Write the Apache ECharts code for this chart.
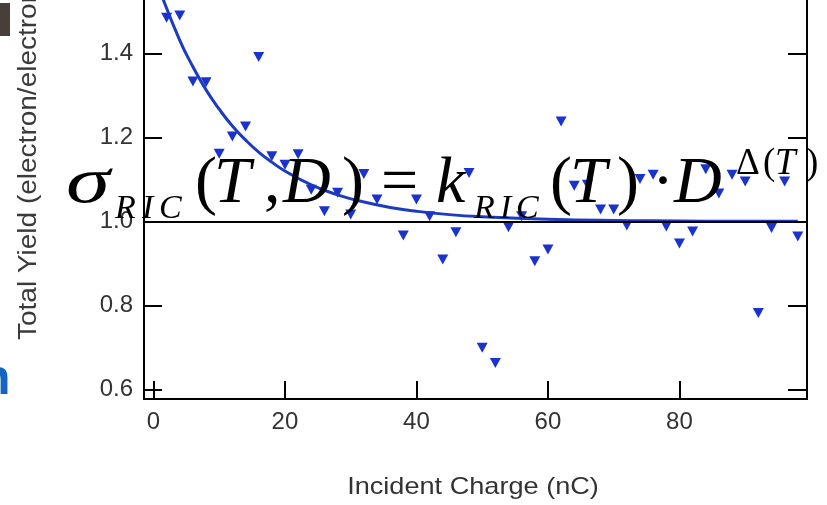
<!DOCTYPE html>
<html>
<head>
<meta charset="utf-8">
<script src="https://cdn.jsdelivr.net/npm/echarts@6/dist/echarts.min.js"></script>
<style>
  html, body { margin: 0; padding: 0; background: #ffffff; }
  #chart { width: 827px; height: 505px; }
</style>
</head>
<body>
<div id="chart"></div>
<script>
// Measured total electron yield versus accumulated incident charge
const charge = [2, 4, 6, 8, 10, 12, 14, 16, 18, 20, 22, 24, 26, 28, 30, 32, 34, 38, 40, 42, 44, 46, 48, 50,
  52, 54, 56, 58, 60, 62, 64, 66, 68, 70, 72, 74, 76, 78, 80, 82, 84, 86, 88, 90, 92, 94, 96, 98];
const totalYield = [1.485, 1.49, 1.333, 1.331, 1.161, 1.202, 1.226, 1.391, 1.155, 1.135, 1.16, 1.075, 1.024,
  1.068, 1.016, 1.113, 1.052, 0.966, 1.052, 1.012, 0.909, 0.974, 1.115, 0.699, 0.663, 0.986, 1.012, 0.905,
  0.933, 1.238, 1.085, 1.087, 1.028, 1.028, 0.99, 1.101, 1.111, 0.988, 0.947, 0.976, 1.124, 1.066, 1.111,
  1.095, 0.782, 0.984, 1.095, 0.964];

// Exponential decay fit through the yield data
const fitCharge = [1.2, 4, 6, 8, 10, 12, 14, 16, 18, 20, 24, 28, 32, 36, 40, 45, 50, 60, 70, 80, 90, 98];
const fitYield = [1.54, 1.431, 1.368, 1.313, 1.267, 1.227, 1.194, 1.165, 1.141, 1.12, 1.087, 1.063, 1.046,
  1.033, 1.024, 1.016, 1.011, 1.005, 1.002, 1.001, 1.0, 1.0];

// Reference level and tick labels
const unityLevel = 1.0;
const xTickValues = [0, 20, 40, 60, 80];
const yTickValues = [0.6, 0.8, 1.0, 1.2, 1.4];

const xTitle = 'Incident Charge (nC)';
const yTitle = 'Total Yield (electron/electron)';

const AXIS_FONT = '"Liberation Sans", Arial, sans-serif';
const MATH_FONT = '"Liberation Serif", "Times New Roman", serif';

// Equation glyphs: text, left x, baseline y, size, italic, horizontal stretch
const eq = [
  ['σ', 66, 207, 66, true, 1.35],
  ['R', 115, 221, 34, true], ['I', 142, 221, 34, true], ['C', 159, 221, 34, true],
  ['(', 195, 207, 66, false],
  ['T', 214, 207, 66, true],
  [',', 264, 207, 66, false],
  ['D', 283, 207, 66, true],
  [')', 342, 207, 66, false],
  ['=', 381, 207, 66, false],
  ['k', 436, 207, 66, true],
  ['R', 474, 221, 34, true], ['I', 500, 221, 34, true], ['C', 516, 221, 34, true],
  ['(', 550, 207, 66, false],
  ['T', 570, 207, 66, true],
  [')', 617, 207, 66, false],
  ['·', 652, 207, 66, false],
  ['D', 674, 207, 66, true],
  ['Δ', 736, 177, 37, false],
  ['(', 763, 177, 37, false],
  ['T', 775, 177, 37, true],
  [')', 806, 177, 37, false]
];

const eqGraphics = eq.map(([t, x, base, size, italic, stretch]) => ({
  type: 'text',
  z: 100,
  x: x,
  y: base - 0.34 * size,
  scaleX: stretch || 1,
  style: {
    text: t,
    fill: '#000000',
    font: (italic ? 'italic ' : '') + size + 'px ' + MATH_FONT,
    align: 'left',
    verticalAlign: 'middle',
    lineHeight: size
  }
}));

const chart = echarts.init(document.getElementById('chart'), null, { renderer: 'canvas' });

const option = {
  backgroundColor: '#ffffff',
  animation: false,
  grid: { left: 144, right: 20, top: 0, bottom: 106, containLabel: false },
  xAxis: {
    type: 'value',
    min: -1.44,
    max: 99.4,
    axisLine: { show: true, onZero: false, lineStyle: { color: '#000', width: 2 } },
    axisTick: { show: true, inside: true, length: 18, customValues: xTickValues, lineStyle: { color: '#000', width: 2 } },
    axisLabel: {
      show: true, customValues: xTickValues, margin: 11,
      color: '#333333', fontSize: 24, fontFamily: AXIS_FONT,
      formatter: v => String(Math.round(v))
    },
    splitLine: { show: false }
  },
  yAxis: [
    {
      type: 'value',
      position: 'left',
      min: 0.577,
      max: 1.527,
      axisLine: { show: true, onZero: false, lineStyle: { color: '#000', width: 2 } },
      axisTick: { show: true, inside: true, length: 18, customValues: yTickValues, lineStyle: { color: '#000', width: 2 } },
      axisLabel: {
        show: true, customValues: yTickValues, margin: 11,
        color: '#333333', fontSize: 24, fontFamily: AXIS_FONT,
        formatter: v => v.toFixed(1)
      },
      splitLine: { show: false }
    },
    {
      type: 'value',
      position: 'right',
      min: 0.577,
      max: 1.527,
      axisLine: { show: true, onZero: false, lineStyle: { color: '#000', width: 2 } },
      axisTick: { show: true, inside: true, length: 19, customValues: yTickValues, lineStyle: { color: '#000', width: 2 } },
      axisLabel: { show: false },
      splitLine: { show: false }
    }
  ],
  series: [
    {
      name: 'unity',
      type: 'line',
      data: [],
      silent: true,
      markLine: {
        silent: true,
        symbol: ['none', 'none'],
        label: { show: false },
        lineStyle: { color: '#000000', width: 2, type: 'solid' },
        data: [{ yAxis: unityLevel }]
      },
      z: 1
    },
    {
      name: 'fit',
      type: 'line',
      smooth: true,
      showSymbol: false,
      symbol: 'none',
      clip: true,
      data: fitCharge.map((c, i) => [c, fitYield[i]]),
      lineStyle: { color: '#1c3cc0', width: 3 },
      z: 2
    },
    {
      name: 'yield',
      type: 'scatter',
      symbol: 'triangle',
      symbolRotate: 180,
      symbolSize: [11, 10],
      data: charge.map((c, i) => [c, totalYield[i]]),
      itemStyle: { color: '#1a33cc', opacity: 1 },
      z: 3
    }
  ],
  graphic: [
    {
      type: 'text',
      x: 473, y: 487,
      scaleX: 1.13,
      style: {
        text: xTitle, fill: '#333333', font: '24px ' + AXIS_FONT,
        align: 'center', verticalAlign: 'middle'
      }
    },
    {
      type: 'text',
      x: 29, y: 340,
      rotation: Math.PI / 2,
      scaleX: 1.12,
      style: {
        text: yTitle, fill: '#3a3a3a', font: '25px ' + AXIS_FONT,
        align: 'left', verticalAlign: 'middle'
      }
    },
    {
      type: 'rect',
      shape: { x: 0, y: 3, width: 10, height: 33 },
      style: { fill: '#4a3e3a' }
    },
    {
      type: 'text',
      x: -20, y: 380,
      style: {
        text: 'n', fill: '#1565c0', font: 'bold 50px ' + AXIS_FONT,
        align: 'left', verticalAlign: 'middle', lineHeight: 50
      }
    }
  ].concat(eqGraphics)
};

chart.setOption(option);
</script>
</body>
</html>
